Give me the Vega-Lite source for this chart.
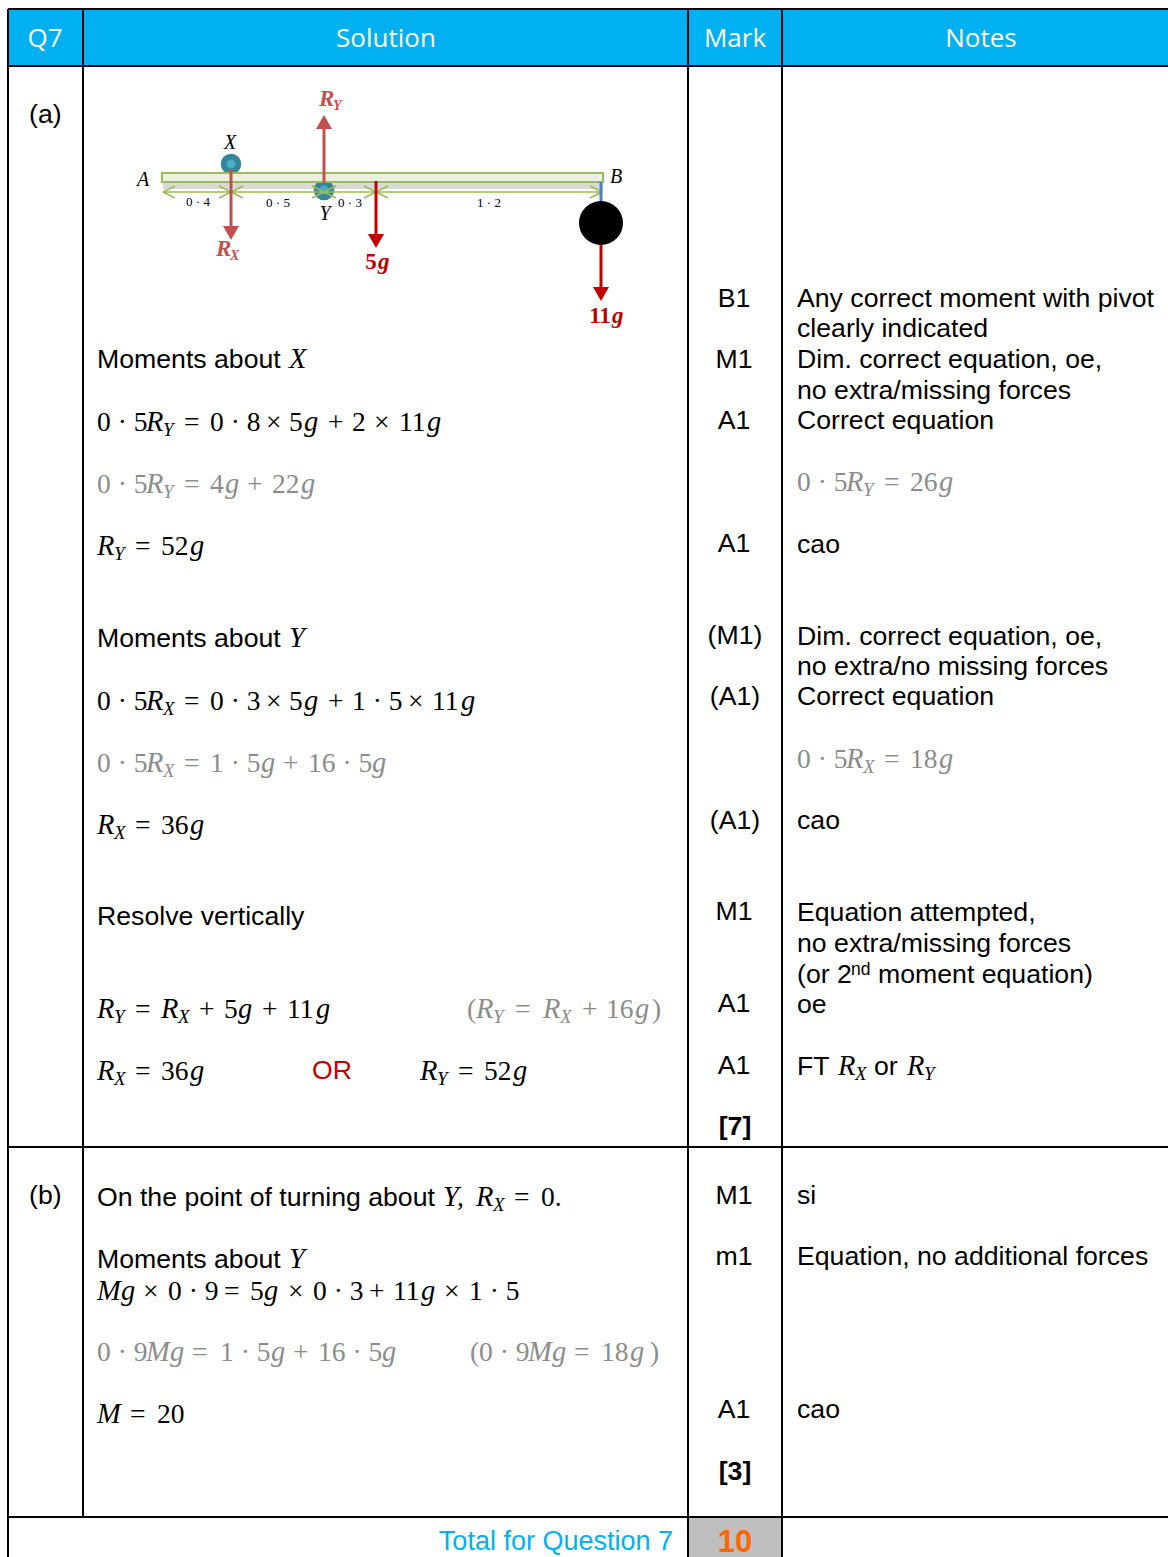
{
"$schema":"https://vega.github.io/schema/vega-lite/v6.json",
"width":1168,"height":1557,"autosize":"none","padding":0,"background":"white",
"config":{"view":{"stroke":null}},
"datasets":{
"fills":[
{"x":8,"x2":1168,"y":9,"y2":66,"tone":"header"},
{"x":688,"x2":782,"y":1517,"y2":1557,"tone":"cell"},
{"x":163,"x2":603,"y":182,"y2":189,"tone":"shadow"}],
"beam":[{"x":162,"x2":603,"y":173,"y2":182,"tone":"beam"}],
"grid":[
{"x":8,"x2":1168,"y":9,"y2":9,"tone":"ink"},
{"x":8,"x2":1168,"y":66,"y2":66,"tone":"ink"},
{"x":8,"x2":1168,"y":1147,"y2":1147,"tone":"ink"},
{"x":8,"x2":1168,"y":1517,"y2":1517,"tone":"ink"},
{"x":8,"x2":8,"y":9,"y2":1557,"tone":"ink"},
{"x":83,"x2":83,"y":9,"y2":1517,"tone":"ink"},
{"x":688,"x2":688,"y":9,"y2":1557,"tone":"ink"},
{"x":782,"x2":782,"y":9,"y2":1557,"tone":"ink"}],
"pinsOuter":[{"x":231,"y":164,"tone":"pin"},{"x":324,"y":190,"tone":"pin"}],
"pinsInner":[{"x":231,"y":164,"tone":"pinInner"},{"x":324,"y":190,"tone":"pinInner"}],
"ball":[{"x":601,"y":223,"tone":"ink"}],
"dims":[
{"x":163,"x2":603,"y":192,"y2":192,"tone":"dim"},
{"x":163,"x2":175,"y":192,"y2":186,"tone":"dim"},
{"x":163,"x2":175,"y":192,"y2":198,"tone":"dim"},
{"x":219,"x2":243,"y":186,"y2":198,"tone":"dim"},
{"x":243,"x2":219,"y":186,"y2":198,"tone":"dim"},
{"x":312,"x2":336,"y":186,"y2":198,"tone":"dim"},
{"x":336,"x2":312,"y":186,"y2":198,"tone":"dim"},
{"x":364,"x2":388,"y":186,"y2":198,"tone":"dim"},
{"x":388,"x2":364,"y":186,"y2":198,"tone":"dim"},
{"x":590,"x2":602,"y":186,"y2":192,"tone":"dim"},
{"x":590,"x2":602,"y":198,"y2":192,"tone":"dim"}],
"arrows":[
{"x":601,"x2":601,"y":182,"y2":204,"tone":"blue"},
{"x":231,"x2":231,"y":170,"y2":228,"tone":"rose"},
{"x":324,"x2":324,"y":184,"y2":126,"tone":"rose"},
{"x":376,"x2":376,"y":181,"y2":236,"tone":"red"},
{"x":601,"x2":601,"y":243,"y2":289,"tone":"red"}],
"heads":[
{"x":231,"y":233,"dir":"down","tone":"rose"},
{"x":324,"y":122,"dir":"up","tone":"rose"},
{"x":376,"y":241,"dir":"down","tone":"red"},
{"x":601,"y":294,"dir":"down","tone":"red"}],
"header":[
{"x":45,"y":47,"text":"Q7","tone":"white"},
{"x":386,"y":47,"text":"Solution","tone":"white"},
{"x":735,"y":47,"text":"Mark","tone":"white"},
{"x":981,"y":47,"text":"Notes","tone":"white"}],
"diagItalic":[
{"x":143,"y":186,"text":"A","tone":"ink"},
{"x":230,"y":149,"text":"X","tone":"ink"},
{"x":616,"y":183,"text":"B","tone":"ink"},
{"x":325,"y":220,"text":"Y","tone":"ink"}],
"diagNums":[
{"x":198,"y":206,"text":"0 · 4","tone":"ink"},
{"x":278,"y":207,"text":"0 · 5","tone":"ink"},
{"x":350,"y":207,"text":"0 · 3","tone":"ink"},
{"x":489,"y":207,"text":"1 · 2","tone":"ink"}],
"diagForce":[
{"x":319,"y":106,"text":"R","tone":"rose"},
{"x":216,"y":256,"text":"R","tone":"rose"},
{"x":378,"y":269,"text":"g","tone":"red"},
{"x":612,"y":323,"text":"g","tone":"red"}],
"diagForceUp":[
{"x":371,"y":269,"text":"5","tone":"red"},
{"x":600,"y":323,"text":"11","tone":"red"}],
"diagForceSub":[
{"x":333,"y":110,"text":"Y","tone":"rose"},
{"x":230,"y":260,"text":"X","tone":"rose"}],
"sans":[
{"x":29,"y":123,"text":"(a)","tone":"ink"},
{"x":29,"y":1204,"text":"(b)","tone":"ink"},
{"x":97,"y":368,"text":"Moments about","tone":"ink"},
{"x":97,"y":647,"text":"Moments about","tone":"ink"},
{"x":97,"y":925,"text":"Resolve vertically","tone":"ink"},
{"x":312,"y":1079,"text":"OR","tone":"red"},
{"x":97,"y":1206,"text":"On the point of turning about","tone":"ink"},
{"x":97,"y":1268,"text":"Moments about","tone":"ink"},
{"x":797,"y":307,"text":"Any correct moment with pivot","tone":"ink"},
{"x":797,"y":337,"text":"clearly indicated","tone":"ink"},
{"x":797,"y":368,"text":"Dim. correct equation, oe,","tone":"ink"},
{"x":797,"y":399,"text":"no extra/missing forces","tone":"ink"},
{"x":797,"y":429,"text":"Correct equation","tone":"ink"},
{"x":797,"y":553,"text":"cao","tone":"ink"},
{"x":797,"y":645,"text":"Dim. correct equation, oe,","tone":"ink"},
{"x":797,"y":675,"text":"no extra/no missing forces","tone":"ink"},
{"x":797,"y":705,"text":"Correct equation","tone":"ink"},
{"x":797,"y":829,"text":"cao","tone":"ink"},
{"x":797,"y":921,"text":"Equation attempted,","tone":"ink"},
{"x":797,"y":952,"text":"no extra/missing forces","tone":"ink"},
{"x":797,"y":983,"text":"(or 2","tone":"ink"},
{"x":878,"y":983,"text":"moment equation)","tone":"ink"},
{"x":797,"y":1013,"text":"oe","tone":"ink"},
{"x":797,"y":1075,"text":"FT","tone":"ink"},
{"x":874,"y":1075,"text":"or","tone":"ink"},
{"x":797,"y":1204,"text":"si","tone":"ink"},
{"x":797,"y":1265,"text":"Equation, no additional forces","tone":"ink"},
{"x":797,"y":1418,"text":"cao","tone":"ink"}],
"sup":[{"x":851,"y":975,"text":"nd","tone":"ink"}],
"marks":[
{"x":734,"y":307,"text":"B1","tone":"ink"},
{"x":734,"y":368,"text":"M1","tone":"ink"},
{"x":734,"y":429,"text":"A1","tone":"ink"},
{"x":734,"y":552,"text":"A1","tone":"ink"},
{"x":735,"y":644,"text":"(M1)","tone":"ink"},
{"x":735,"y":705,"text":"(A1)","tone":"ink"},
{"x":735,"y":829,"text":"(A1)","tone":"ink"},
{"x":734,"y":920,"text":"M1","tone":"ink"},
{"x":734,"y":1012,"text":"A1","tone":"ink"},
{"x":734,"y":1074,"text":"A1","tone":"ink"},
{"x":734,"y":1204,"text":"M1","tone":"ink"},
{"x":734,"y":1265,"text":"m1","tone":"ink"},
{"x":734,"y":1418,"text":"A1","tone":"ink"}],
"marksBold":[
{"x":735,"y":1135,"text":"[7]","tone":"ink"},
{"x":735,"y":1480,"text":"[3]","tone":"ink"}],
"total":[{"x":673,"y":1550,"text":"Total for Question 7","tone":"header"}],
"totalMark":[{"x":735,"y":1552,"text":"10","tone":"orange"}],
"mathUp":[
{"x":97,"y":431,"text":"0 · 5","tone":"ink"},{"x":184,"y":431,"text":"=","tone":"ink"},{"x":210,"y":431,"text":"0 · 8","tone":"ink"},{"x":266,"y":431,"text":"×","tone":"ink"},{"x":289,"y":431,"text":"5","tone":"ink"},{"x":328,"y":431,"text":"+","tone":"ink"},{"x":352,"y":431,"text":"2","tone":"ink"},{"x":374,"y":431,"text":"×","tone":"ink"},{"x":399,"y":431,"text":"11","tone":"ink"},
{"x":97,"y":493,"text":"0 · 5","tone":"muted"},{"x":184,"y":493,"text":"=","tone":"muted"},{"x":210,"y":493,"text":"4","tone":"muted"},{"x":247,"y":493,"text":"+","tone":"muted"},{"x":272,"y":493,"text":"22","tone":"muted"},
{"x":135,"y":555,"text":"=","tone":"ink"},{"x":161,"y":555,"text":"52","tone":"ink"},
{"x":97,"y":710,"text":"0 · 5","tone":"ink"},{"x":184,"y":710,"text":"=","tone":"ink"},{"x":210,"y":710,"text":"0 · 3","tone":"ink"},{"x":266,"y":710,"text":"×","tone":"ink"},{"x":289,"y":710,"text":"5","tone":"ink"},{"x":328,"y":710,"text":"+","tone":"ink"},{"x":352,"y":710,"text":"1 · 5","tone":"ink"},{"x":408,"y":710,"text":"×","tone":"ink"},{"x":432,"y":710,"text":"11","tone":"ink"},
{"x":97,"y":772,"text":"0 · 5","tone":"muted"},{"x":184,"y":772,"text":"=","tone":"muted"},{"x":210,"y":772,"text":"1 · 5","tone":"muted"},{"x":283,"y":772,"text":"+","tone":"muted"},{"x":308,"y":772,"text":"16 · 5","tone":"muted"},
{"x":135,"y":834,"text":"=","tone":"ink"},{"x":161,"y":834,"text":"36","tone":"ink"},
{"x":135,"y":1018,"text":"=","tone":"ink"},{"x":199,"y":1018,"text":"+","tone":"ink"},{"x":224,"y":1018,"text":"5","tone":"ink"},{"x":262,"y":1018,"text":"+","tone":"ink"},{"x":287,"y":1018,"text":"11","tone":"ink"},
{"x":467,"y":1018,"text":"(","tone":"muted"},{"x":515,"y":1018,"text":"=","tone":"muted"},{"x":582,"y":1018,"text":"+","tone":"muted"},{"x":606,"y":1018,"text":"16","tone":"muted"},{"x":652,"y":1018,"text":")","tone":"muted"},
{"x":135,"y":1080,"text":"=","tone":"ink"},{"x":161,"y":1080,"text":"36","tone":"ink"},
{"x":458,"y":1080,"text":"=","tone":"ink"},{"x":484,"y":1080,"text":"52","tone":"ink"},
{"x":457,"y":1206,"text":",","tone":"ink"},{"x":514,"y":1206,"text":"=","tone":"ink"},{"x":541,"y":1206,"text":"0.","tone":"ink"},
{"x":143,"y":1300,"text":"×","tone":"ink"},{"x":168,"y":1300,"text":"0 · 9","tone":"ink"},{"x":224,"y":1300,"text":"=","tone":"ink"},{"x":250,"y":1300,"text":"5","tone":"ink"},{"x":288,"y":1300,"text":"×","tone":"ink"},{"x":313,"y":1300,"text":"0 · 3","tone":"ink"},{"x":369,"y":1300,"text":"+","tone":"ink"},{"x":393,"y":1300,"text":"11","tone":"ink"},{"x":444,"y":1300,"text":"×","tone":"ink"},{"x":469,"y":1300,"text":"1 · 5","tone":"ink"},
{"x":97,"y":1361,"text":"0 · 9","tone":"muted"},{"x":192,"y":1361,"text":"=","tone":"muted"},{"x":220,"y":1361,"text":"1 · 5","tone":"muted"},{"x":293,"y":1361,"text":"+","tone":"muted"},{"x":318,"y":1361,"text":"16 · 5","tone":"muted"},
{"x":470,"y":1361,"text":"(","tone":"muted"},{"x":479,"y":1361,"text":"0 · 9","tone":"muted"},{"x":574,"y":1361,"text":"=","tone":"muted"},{"x":601,"y":1361,"text":"18","tone":"muted"},{"x":650,"y":1361,"text":")","tone":"muted"},
{"x":130,"y":1423,"text":"=","tone":"ink"},{"x":157,"y":1423,"text":"20","tone":"ink"},
{"x":797,"y":491,"text":"0 · 5","tone":"muted"},{"x":884,"y":491,"text":"=","tone":"muted"},{"x":910,"y":491,"text":"26","tone":"muted"},
{"x":797,"y":768,"text":"0 · 5","tone":"muted"},{"x":884,"y":768,"text":"=","tone":"muted"},{"x":910,"y":768,"text":"18","tone":"muted"}],
"mathIt":[
{"x":289,"y":368,"text":"X","tone":"ink"},{"x":289,"y":647,"text":"Y","tone":"ink"},{"x":289,"y":1268,"text":"Y","tone":"ink"},{"x":443,"y":1206,"text":"Y","tone":"ink"},
{"x":146,"y":431,"text":"R","tone":"ink"},{"x":304,"y":431,"text":"g","tone":"ink"},{"x":427,"y":431,"text":"g","tone":"ink"},
{"x":146,"y":493,"text":"R","tone":"muted"},{"x":225,"y":493,"text":"g","tone":"muted"},{"x":301,"y":493,"text":"g","tone":"muted"},
{"x":97,"y":555,"text":"R","tone":"ink"},{"x":190,"y":555,"text":"g","tone":"ink"},
{"x":146,"y":710,"text":"R","tone":"ink"},{"x":304,"y":710,"text":"g","tone":"ink"},{"x":461,"y":710,"text":"g","tone":"ink"},
{"x":146,"y":772,"text":"R","tone":"muted"},{"x":261,"y":772,"text":"g","tone":"muted"},{"x":372,"y":772,"text":"g","tone":"muted"},
{"x":97,"y":834,"text":"R","tone":"ink"},{"x":190,"y":834,"text":"g","tone":"ink"},
{"x":97,"y":1018,"text":"R","tone":"ink"},{"x":161,"y":1018,"text":"R","tone":"ink"},{"x":238,"y":1018,"text":"g","tone":"ink"},{"x":316,"y":1018,"text":"g","tone":"ink"},
{"x":476,"y":1018,"text":"R","tone":"muted"},{"x":543,"y":1018,"text":"R","tone":"muted"},{"x":635,"y":1018,"text":"g","tone":"muted"},
{"x":97,"y":1080,"text":"R","tone":"ink"},{"x":190,"y":1080,"text":"g","tone":"ink"},{"x":420,"y":1080,"text":"R","tone":"ink"},{"x":513,"y":1080,"text":"g","tone":"ink"},
{"x":476,"y":1206,"text":"R","tone":"ink"},
{"x":97,"y":1300,"text":"M","tone":"ink"},{"x":121,"y":1300,"text":"g","tone":"ink"},{"x":264,"y":1300,"text":"g","tone":"ink"},{"x":421,"y":1300,"text":"g","tone":"ink"},
{"x":146,"y":1361,"text":"M","tone":"muted"},{"x":170,"y":1361,"text":"g","tone":"muted"},{"x":271,"y":1361,"text":"g","tone":"muted"},{"x":382,"y":1361,"text":"g","tone":"muted"},
{"x":528,"y":1361,"text":"M","tone":"muted"},{"x":552,"y":1361,"text":"g","tone":"muted"},{"x":630,"y":1361,"text":"g","tone":"muted"},
{"x":97,"y":1423,"text":"M","tone":"ink"},
{"x":846,"y":491,"text":"R","tone":"muted"},{"x":939,"y":491,"text":"g","tone":"muted"},
{"x":846,"y":768,"text":"R","tone":"muted"},{"x":939,"y":768,"text":"g","tone":"muted"},
{"x":838,"y":1075,"text":"R","tone":"ink"},{"x":907,"y":1075,"text":"R","tone":"ink"}],
"mathSub":[
{"x":163,"y":436,"text":"Y","tone":"ink"},{"x":163,"y":498,"text":"Y","tone":"muted"},{"x":114,"y":560,"text":"Y","tone":"ink"},
{"x":163,"y":715,"text":"X","tone":"ink"},{"x":163,"y":777,"text":"X","tone":"muted"},{"x":114,"y":839,"text":"X","tone":"ink"},
{"x":114,"y":1023,"text":"Y","tone":"ink"},{"x":178,"y":1023,"text":"X","tone":"ink"},{"x":493,"y":1023,"text":"Y","tone":"muted"},{"x":560,"y":1023,"text":"X","tone":"muted"},
{"x":114,"y":1085,"text":"X","tone":"ink"},{"x":437,"y":1085,"text":"Y","tone":"ink"},{"x":493,"y":1211,"text":"X","tone":"ink"},
{"x":863,"y":496,"text":"Y","tone":"muted"},{"x":863,"y":773,"text":"X","tone":"muted"},{"x":855,"y":1080,"text":"X","tone":"ink"},{"x":924,"y":1080,"text":"Y","tone":"ink"}]
},
"encoding":{
"x":{"field":"x","type":"quantitative","axis":null,"scale":{"domain":[0,1168],"nice":false,"zero":false}},
"y":{"field":"y","type":"quantitative","axis":null,"scale":{"domain":[1557,0],"nice":false,"zero":false}},
"color":{"field":"tone","type":"nominal","legend":null,"scale":{
"domain":["ink","muted","red","rose","header","cell","shadow","beam","dim","blue","pin","pinInner","white","orange"],
"range":["#000000","#8c8c8c","#c00000","#c0504d","#00b0f0","#bfbfbf","#d9d9d9","#ebf1de","#9bbb59","#4f81bd","#31859c","#4bacc6","#ffffff","#ff6600"]}}
},
"layer":[
{"data":{"name":"fills"},"mark":{"type":"rect"},"encoding":{"x2":{"field":"x2"},"y2":{"field":"y2"}}},
{"data":{"name":"pinsOuter"},"mark":{"type":"point","filled":true,"opacity":1,"shape":"circle","size":420}},
{"data":{"name":"pinsInner"},"mark":{"type":"point","filled":true,"opacity":1,"shape":"circle","size":80}},
{"data":{"name":"beam"},"mark":{"type":"rect","stroke":"#9bbb59","strokeWidth":2},"encoding":{"x2":{"field":"x2"},"y2":{"field":"y2"}}},
{"data":{"name":"dims"},"mark":{"type":"rule","strokeWidth":1.6},"encoding":{"x2":{"field":"x2"},"y2":{"field":"y2"}}},
{"data":{"name":"arrows"},"mark":{"type":"rule","strokeWidth":3},"encoding":{"x2":{"field":"x2"},"y2":{"field":"y2"}}},
{"data":{"name":"heads"},"mark":{"type":"point","filled":true,"opacity":1,"size":256},"encoding":{"shape":{"field":"dir","type":"nominal","legend":null,"scale":{"domain":["up","down"],"range":["triangle-up","triangle-down"]}}}},
{"data":{"name":"ball"},"mark":{"type":"point","filled":true,"opacity":1,"shape":"circle","size":1936}},
{"data":{"name":"grid"},"mark":{"type":"rule","strokeWidth":2},"encoding":{"x2":{"field":"x2"},"y2":{"field":"y2"}}},
{"data":{"name":"header"},"mark":{"type":"text","font":"Open Sans","fontSize":26,"align":"center","baseline":"alphabetic"},"encoding":{"text":{"field":"text"}}},
{"data":{"name":"diagItalic"},"mark":{"type":"text","font":"Liberation Serif","fontStyle":"italic","fontSize":20,"align":"center","baseline":"alphabetic"},"encoding":{"text":{"field":"text"}}},
{"data":{"name":"diagNums"},"mark":{"type":"text","font":"Liberation Serif","fontSize":13,"align":"center","baseline":"alphabetic"},"encoding":{"text":{"field":"text"}}},
{"data":{"name":"diagForce"},"mark":{"type":"text","font":"Liberation Serif","fontStyle":"italic","fontWeight":"bold","fontSize":23,"align":"left","baseline":"alphabetic"},"encoding":{"text":{"field":"text"}}},
{"data":{"name":"diagForceUp"},"mark":{"type":"text","font":"Liberation Serif","fontWeight":"bold","fontSize":23,"align":"center","baseline":"alphabetic"},"encoding":{"text":{"field":"text"}}},
{"data":{"name":"diagForceSub"},"mark":{"type":"text","font":"Liberation Serif","fontStyle":"italic","fontWeight":"bold","fontSize":14,"align":"left","baseline":"alphabetic"},"encoding":{"text":{"field":"text"}}},
{"data":{"name":"sans"},"mark":{"type":"text","font":"Liberation Sans","fontSize":26.67,"align":"left","baseline":"alphabetic"},"encoding":{"text":{"field":"text"}}},
{"data":{"name":"sup"},"mark":{"type":"text","font":"Liberation Sans","fontSize":17.5,"align":"left","baseline":"alphabetic"},"encoding":{"text":{"field":"text"}}},
{"data":{"name":"marks"},"mark":{"type":"text","font":"Liberation Sans","fontSize":26.67,"align":"center","baseline":"alphabetic"},"encoding":{"text":{"field":"text"}}},
{"data":{"name":"marksBold"},"mark":{"type":"text","font":"Liberation Sans","fontWeight":"bold","fontSize":26.67,"align":"center","baseline":"alphabetic"},"encoding":{"text":{"field":"text"}}},
{"data":{"name":"total"},"mark":{"type":"text","font":"Liberation Sans","fontSize":27,"align":"right","baseline":"alphabetic"},"encoding":{"text":{"field":"text"}}},
{"data":{"name":"totalMark"},"mark":{"type":"text","font":"Liberation Sans","fontWeight":"bold","fontSize":31,"align":"center","baseline":"alphabetic"},"encoding":{"text":{"field":"text"}}},
{"data":{"name":"mathUp"},"mark":{"type":"text","font":"Liberation Serif","fontSize":27.5,"align":"left","baseline":"alphabetic"},"encoding":{"text":{"field":"text"}}},
{"data":{"name":"mathIt"},"mark":{"type":"text","font":"Liberation Serif","fontStyle":"italic","fontSize":28.5,"align":"left","baseline":"alphabetic"},"encoding":{"text":{"field":"text"}}},
{"data":{"name":"mathSub"},"mark":{"type":"text","font":"Liberation Serif","fontStyle":"italic","fontSize":19,"align":"left","baseline":"alphabetic"},"encoding":{"text":{"field":"text"}}}
]
}
